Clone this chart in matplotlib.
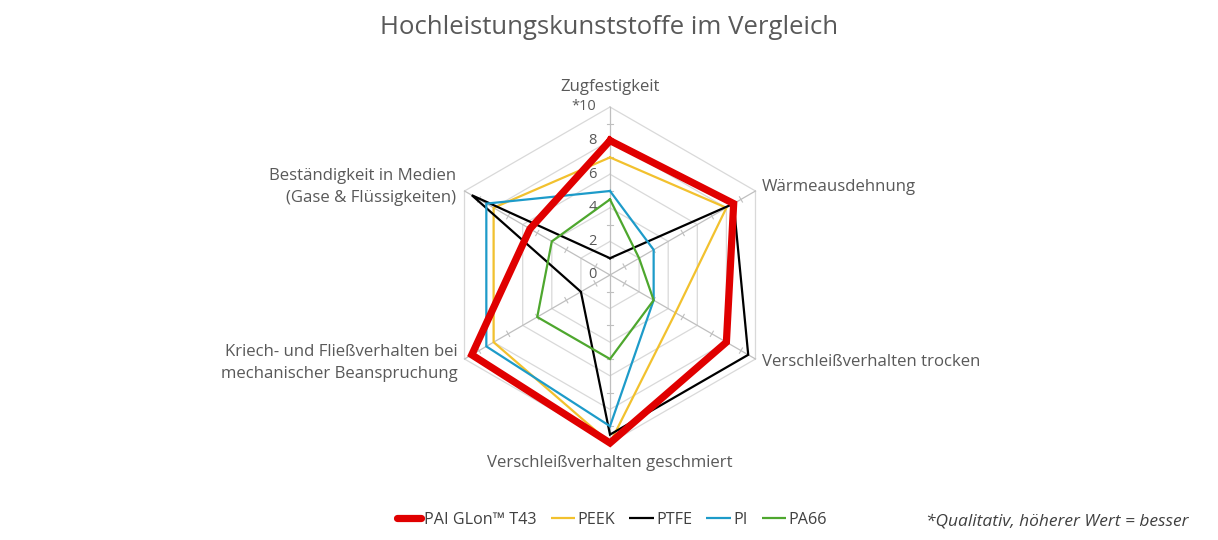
import numpy as np
import matplotlib
matplotlib.use('Agg')
import matplotlib.pyplot as plt
from matplotlib.lines import Line2D

plt.rcParams['font.family'] = ['Open Sans', 'DejaVu Sans']

categories = ['Zugfestigkeit', 'Wärmeausdehnung', 'Verschleißverhalten trocken',
              'Verschleißverhalten geschmiert',
              'Kriech- und Fließverhalten bei\nmechanischer Beanspruchung',
              'Beständigkeit in Medien\n(Gase & Flüssigkeiten)']
series_names = ['PAI GLon™ T43', 'PEEK', 'PTFE', 'PI', 'PA66']
pai = [8, 8.5, 8, 10, 9.5, 5.5]
peek = [7, 8, 4.5, 10, 8, 8]
ptfe = [1, 8.5, 9.5, 9.5, 2, 9.5]
pi = [5, 3, 3, 9, 8.5, 8.5]
pa66 = [4.5, 2, 3, 5, 5, 4]
tick_labels = ['0', '2', '4', '6', '8', '*10']

colors = ['#E00000', '#F2C12E', '#000000', '#1D9BC9', '#4EA72E']
widths = [5.2, 1.6, 1.6, 1.6, 1.6]

W, H = 1218, 540
cx, cy, unit = 610, 275, 16.8

fig = plt.figure(figsize=(W / 100, H / 100), dpi=100)
ax = fig.add_axes([0, 0, 1, 1])
ax.set_xlim(-cx / unit, (W - cx) / unit)
ax.set_ylim(-(H - cy) / unit, cy / unit)
ax.axis('off')

n = len(categories)
ang = np.pi / 2 - np.arange(n) * 2 * np.pi / n


def xy(vals):
    v = np.asarray(vals, dtype=float)
    return v * np.cos(ang), v * np.sin(ang)


def px(x, y):
    return (x - cx) / unit, (cy - y) / unit


# grid
for r in [2, 4, 6, 8, 10]:
    gx, gy = xy([r] * n)
    ax.plot(np.append(gx, gx[0]), np.append(gy, gy[0]), color='#D9D9D9', lw=0.9, zorder=1)
for a in ang:
    ax.plot([0, 10 * np.cos(a)], [0, 10 * np.sin(a)], color='#BFBFBF', lw=0.9, zorder=1)
    for r in range(1, 10, 2):
        tx, ty = r * np.cos(a), r * np.sin(a)
        nx, ny = -np.sin(a) * 0.18, np.cos(a) * 0.18
        ax.plot([tx - nx, tx + nx], [ty - ny, ty + ny], color='#BFBFBF', lw=0.8, zorder=1)

# tick labels
for i, lab in enumerate(tick_labels):
    ax.text(-0.8, i * 2, lab, ha='right', va='center', fontsize=10.5, color='#595959')

# data
for vals, name, c, lw in zip([pai, peek, ptfe, pi, pa66], series_names, colors, widths):
    sx, sy = xy(vals)
    ax.plot(np.append(sx, sx[0]), np.append(sy, sy[0]), color=c, lw=lw,
            solid_joinstyle='miter', zorder=5 if name.startswith('PAI') else 3, label=name)

# category labels
lab_style = dict(fontsize=12.1, color='#595959', linespacing=1.45)
ax.text(*px(610, 87), categories[0], ha='center', va='center', **lab_style)
ax.text(*px(762, 187), categories[1], ha='left', va='center', **lab_style)
ax.text(*px(762, 362), categories[2], ha='left', va='center', **lab_style)
ax.text(*px(610, 463), categories[3], ha='center', va='center', **lab_style)
ax.text(*px(458, 363), categories[4], ha='right', va='center', **lab_style)
ax.text(*px(456, 187), categories[5], ha='right', va='center', **lab_style)

fig.text(0.5, 1 - 27 / H, 'Hochleistungskunststoffe im Vergleich', ha='center', va='center',
         fontsize=18.5, color='#595959')

handles = [Line2D([], [], color=c, lw=lw, solid_capstyle='round' if i == 0 else 'butt')
           for i, (c, lw) in enumerate(zip(colors, widths))]
fig.legend(handles, series_names, loc='center', bbox_to_anchor=(612 / W, 1 - 520 / H),
           ncol=5, frameon=False, fontsize=11.6, handlelength=1.5, handletextpad=0.15,
           columnspacing=0.9, labelcolor='#404040')

fig.text(1188 / W, 1 - 521 / H, '*Qualitativ, höherer Wert = besser', ha='right', va='center',
         fontsize=12.5, style='italic', color='#404040')

fig.savefig('out.png', dpi=100)
